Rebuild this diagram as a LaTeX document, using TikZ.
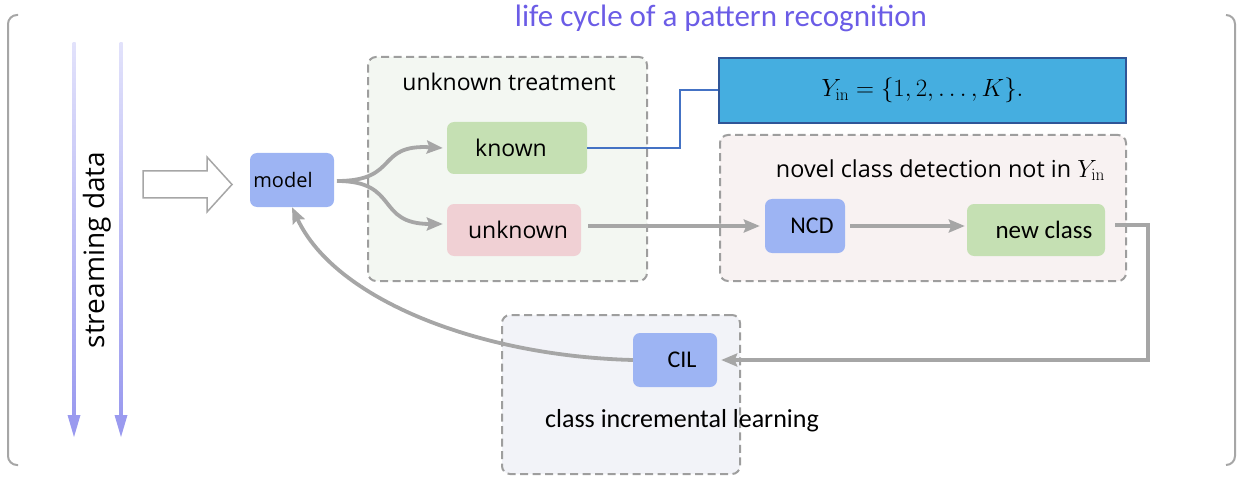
\documentclass[tikz,border=0pt]{standalone}
\usepackage[no-math]{fontspec}
\setmainfont{Carlito}
\newfontfamily\os{Open Sans}
\usetikzlibrary{arrows.meta,calc}
\definecolor{gline}{HTML}{A6A6A6}
\definecolor{dashc}{HTML}{9E9E9E}
\definecolor{bluenode}{HTML}{9DB4F3}
\definecolor{greennode}{HTML}{C5E0B3}
\definecolor{pinknode}{HTML}{F0D0D4}
\definecolor{utbox}{HTML}{F3F7F2}
\definecolor{ncbox}{HTML}{F8F2F2}
\definecolor{cilbox}{HTML}{F2F3F8}
\definecolor{yinfill}{HTML}{45AEE0}
\definecolor{yinborder}{HTML}{2F5597}
\definecolor{blueline}{HTML}{4472C4}
\definecolor{titlec}{HTML}{6B5CE6}
\definecolor{streamc}{HTML}{9A9AEF}
\definecolor{streamtop}{HTML}{E2E2FB}
\tikzset{
  x=1pt, y=-1pt,
  groupbox/.style={draw=dashc, line width=2pt, dash pattern=on 8pt off 4.5pt, rounded corners=8pt, inner sep=0pt},
  procnode/.style={rounded corners=7pt, inner sep=0pt, font=\fontsize{22}{24}\selectfont},
  garrow/.style={draw=gline, line width=3.8pt, -{Stealth[length=16pt,width=13pt,inset=2.5pt]}},
  bracketline/.style={draw=gline, line width=2pt, rounded corners=9pt},
}
\begin{document}
\begin{tikzpicture}
\useasboundingbox (0,0) rectangle (1244,481);
% title
\node[text=titlec, font=\fontsize{31}{33}\selectfont] (title) at (721,18) {life cycle of a pattern recognition};
% brackets
\draw[bracketline] (18,15) -- (8,15) -- (8,465) -- (18,465);
\draw[bracketline] (1226,15) -- (1235,15) -- (1235,465) -- (1226,465);
% streaming arrows
\foreach \xx in {74,121}{
  \shade[top color=streamtop, bottom color=streamc] (\xx-1.5,43) rectangle (\xx+1.5,420);
  \fill[streamc] (\xx-6.5,415) -- (\xx+6.5,415) -- (\xx,437) -- cycle;
}
\node[rotate=90, font=\os\fontsize{28}{30}\selectfont] (stream) at (97,250) {streaming data};
% hollow arrow
\draw[draw=gline, fill=white, line width=1.5pt] (143,171) -- (207,171) -- (207,157) -- (232,184.5) -- (207,212) -- (207,198) -- (143,198) -- cycle;
% group boxes
\node[groupbox, fill=utbox, minimum width=279pt, minimum height=224pt] (utbox) at (507.5,169) {};
\node[font=\os\fontsize{23}{25}\selectfont] (utlabel) at (509,82) {unknown treatment};
\node[groupbox, fill=ncbox, minimum width=406pt, minimum height=146pt] (ncbox) at (923,208) {};
\node[font=\os\fontsize{23.4}{25}\selectfont] (nclabel) at (940.5,170) {novel class detection not in $Y_{\mathrm{in}}$};
\node[groupbox, fill=cilbox, minimum width=238pt, minimum height=159pt] (cbox) at (621,394.5) {};
\node[font=\fontsize{26}{28}\selectfont] (cillabel) at (682,421) {class incremental learning};
% Yin box
\node[draw=yinborder, fill=yinfill, line width=2pt, minimum width=407pt, minimum height=65pt, inner sep=0pt, font=\fontsize{24}{26}\selectfont] (yin) at (922.5,90.5) {$Y_{\mathrm{in}} = \{1, 2, \ldots, K\}.$};
% process nodes
\node[procnode, fill=bluenode, minimum width=84pt, minimum height=54pt, font=\os\fontsize{20}{22}\selectfont] (model) at (292,180) {model\hspace*{18pt}};
\node[procnode, fill=greennode, minimum width=140pt, minimum height=52pt, font=\os\fontsize{23}{25}\selectfont] (known) at (517,148) {known\hspace*{12pt}};
\node[procnode, fill=pinknode, minimum width=134pt, minimum height=52pt, font=\os\fontsize{23}{25}\selectfont] (unknown) at (514,230) {\hspace*{8pt}unknown};
\node[procnode, fill=bluenode, minimum width=80pt, minimum height=54pt, font=\fontsize{24}{26}\selectfont] (ncd) at (805,226) {\hspace*{14pt}NCD};
\node[procnode, fill=greennode, minimum width=138pt, minimum height=52pt, font=\fontsize{25}{27}\selectfont] (newclass) at (1036,230) {\hspace*{16pt}new class};
\node[procnode, fill=bluenode, minimum width=84pt, minimum height=54pt, font=\fontsize{24}{26}\selectfont] (cil) at (675,360) {\hspace*{14pt}CIL};
% connectors
\draw[blueline, line width=2pt] (known.east) -- ++(93,0) |- (yin.west);
\coordinate (split) at (337,181);
\draw[garrow] (split) .. controls (400,181) and (375,144) .. ([xshift=-4pt]known.west);
\draw[garrow] (split) .. controls (400,181) and (375,224) .. ([xshift=-4pt,yshift=6pt]unknown.west);
\draw[garrow, shorten <=7pt, shorten >=5pt] (unknown.east |- ncd.west) -- (ncd.west);
\draw[garrow, shorten <=5pt, shorten >=2pt] (ncd.east) -- (newclass.west |- ncd.east);
\draw[garrow, rounded corners=0pt] ([shift={(10,-5)}]newclass.east) -- (1148,225) |- ([xshift=4pt]cil.east);
\draw[garrow] (cil.west) .. controls (480,356) and (335,300) .. (model.south);
\end{tikzpicture}
\end{document}
